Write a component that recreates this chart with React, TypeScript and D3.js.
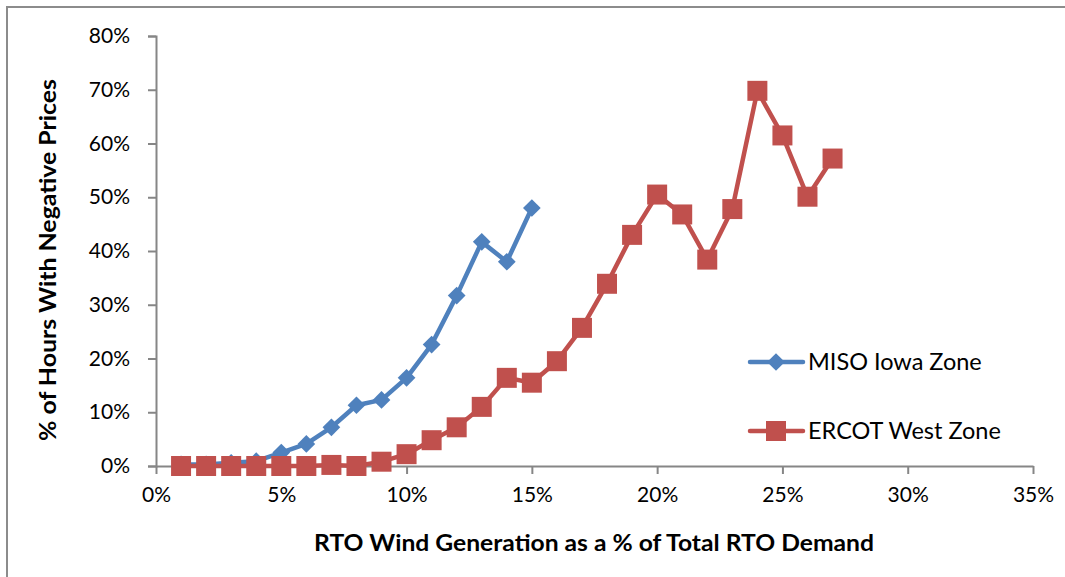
import React, { useEffect, useRef } from "react";
import * as d3 from "d3";

// x = wind generation share (%), y = % of hours with negative prices
const misoX = [1, 2, 3, 4, 5, 6, 7, 8, 9, 10, 11, 12, 13, 14, 15];
const misoY = [0.3, 0.3, 0.6, 0.9, 2.5, 4.1, 7.2, 11.3, 12.3, 16.4, 22.6, 31.7, 41.7, 38.0, 48.0];

const ercotX = [1, 2, 3, 4, 5, 6, 7, 8, 9, 10, 11, 12, 13, 14, 15, 16, 17, 18, 19, 20, 21, 22, 23, 24, 25, 26, 27];
const ercotY = [0, 0, 0, 0, 0, 0, 0.2, 0, 0.8, 2.2, 4.8, 7.2, 11.0, 16.4, 15.5, 19.5, 25.7, 33.9, 43.0, 50.5, 46.8, 38.4, 47.8, 69.8, 61.5, 50.1, 57.2];

const xTicks = [0, 5, 10, 15, 20, 25, 30, 35];
const yTicks = [0, 10, 20, 30, 40, 50, 60, 70, 80];

const seriesNames = ["MISO Iowa Zone", "ERCOT West Zone"];

const W = 1065, H = 577;
const FONT = "Lato, 'Open Sans', sans-serif";

const App = () => {
  const ref = useRef(null);

  useEffect(() => {
    const svg = d3.select(ref.current);
    svg.selectAll("*").remove();

    const margin = { left: 156, right: 32, top: 36, bottom: 111 };

    const x = d3.scaleLinear().domain([0, 35]).range([margin.left, W - margin.right]);
    const y = d3.scaleLinear().domain([0, 80]).range([H - margin.bottom, margin.top]);

    // outer frame
    svg.append("rect")
      .attr("x", 7).attr("y", 7)
      .attr("width", 1200).attr("height", 700)
      .attr("fill", "white")
      .attr("stroke", "#8c8c8c")
      .attr("stroke-width", 2);

    const axisColor = "#868686";

    // Y axis
    const gy = svg.append("g")
      .attr("transform", `translate(${margin.left},0)`)
      .call(d3.axisLeft(y).tickValues(yTicks).tickSize(8).tickPadding(18).tickFormat((d) => `${d}%`));
    gy.select(".domain").attr("stroke", axisColor).attr("stroke-width", 2);
    gy.selectAll(".tick line").attr("stroke", axisColor).attr("stroke-width", 2);
    gy.selectAll("text").attr("fill", "#000").style("font-family", FONT).style("font-size", "21px");

    // X axis
    const gx = svg.append("g")
      .attr("transform", `translate(0,${y(0)})`)
      .call(d3.axisBottom(x).tickValues(xTicks).tickSize(8).tickSizeOuter(0).tickPadding(13).tickFormat((d) => `${d}%`));
    gx.select(".domain").attr("stroke", axisColor).attr("stroke-width", 2);
    gx.selectAll(".tick line").attr("stroke", axisColor).attr("stroke-width", 2);
    gx.selectAll("text").attr("fill", "#000").style("font-family", FONT).style("font-size", "21px");

    // axis titles
    svg.append("text")
      .attr("x", 594).attr("y", 551)
      .attr("text-anchor", "middle")
      .style("font-family", FONT).style("font-size", "23px").style("font-weight", "bold")
      .attr("textLength", 560).attr("lengthAdjust", "spacingAndGlyphs")
      .text("RTO Wind Generation as a % of Total RTO Demand");

    svg.append("text")
      .attr("transform", `translate(56,260) rotate(-90)`)
      .attr("text-anchor", "middle")
      .style("font-family", FONT).style("font-size", "23px").style("font-weight", "bold")
      .attr("textLength", 362).attr("lengthAdjust", "spacingAndGlyphs")
      .text("% of Hours With Negative Prices");

    const line = d3.line().x((d) => x(d[0])).y((d) => y(d[1]));

    const blue = "#4F81BD", red = "#C0504D";
    const diamond = d3.symbol().type(d3.symbolDiamond2).size(200);
    const square = d3.symbol().type(d3.symbolSquare).size(400);

    const misoData = misoX.map((v, i) => [v, misoY[i]]);
    const ercotData = ercotX.map((v, i) => [v, ercotY[i]]);

    // MISO
    svg.append("path").datum(misoData)
      .attr("d", line).attr("fill", "none")
      .attr("stroke", blue).attr("stroke-width", 4.5).attr("stroke-linejoin", "round");
    svg.selectAll(".miso").data(misoData).enter().append("path")
      .attr("d", diamond)
      .attr("transform", (d) => `translate(${x(d[0])},${y(d[1])})`)
      .attr("fill", blue);

    // ERCOT
    svg.append("path").datum(ercotData)
      .attr("d", line).attr("fill", "none")
      .attr("stroke", red).attr("stroke-width", 4.5).attr("stroke-linejoin", "round");
    svg.selectAll(".ercot").data(ercotData).enter().append("path")
      .attr("d", square)
      .attr("transform", (d) => `translate(${x(d[0])},${y(d[1])})`)
      .attr("fill", red);

    // legend
    const legend = [
      { name: seriesNames[0], color: blue, sym: diamond, ly: 362 },
      { name: seriesNames[1], color: red, sym: square, ly: 431 },
    ];
    legend.forEach((l) => {
      svg.append("line")
        .attr("x1", 750).attr("x2", 803).attr("y1", l.ly).attr("y2", l.ly)
        .attr("stroke", l.color).attr("stroke-width", 4.5).attr("stroke-linecap", "round");
      svg.append("path").attr("d", l.sym)
        .attr("transform", `translate(776,${l.ly})`).attr("fill", l.color);
      svg.append("text")
        .attr("x", 808).attr("y", l.ly).attr("dy", "0.35em")
        .style("font-family", FONT).style("font-size", "23.5px")
        .text(l.name);
    });
  }, []);

  return (
    <svg ref={ref} width={W} height={H} style={{ position: "absolute", left: 0, top: 0, background: "white" }} />
  );
};

export default App;
